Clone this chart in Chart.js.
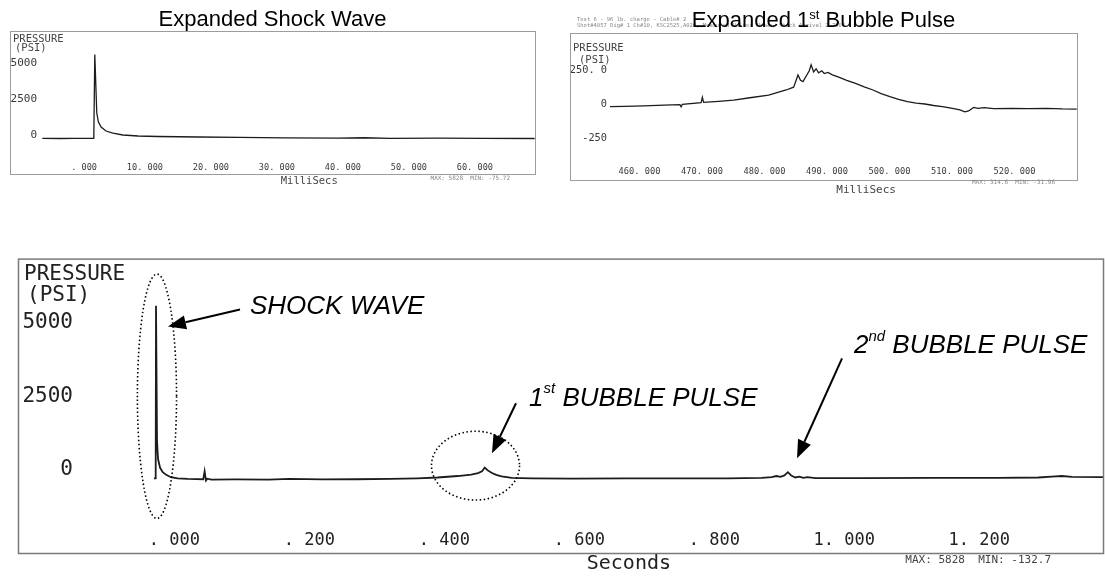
<!DOCTYPE html>
<html>
<head>
<meta charset="utf-8">
<script src="https://cdn.jsdelivr.net/npm/chart.js@4.4.1/dist/chart.umd.min.js"></script>
<style>
  html, body { margin: 0; padding: 0; background: #fff; }
  body { width: 1105px; height: 578px; position: relative; overflow: hidden; }
  canvas { position: absolute; }
  #shockChart { left: 0; top: 0; }
  #bubbleChart { left: 560px; top: 0; }
  #fullChart { left: 0; top: 240px; }
</style>
</head>
<body>
<canvas id="shockChart" width="560" height="200"></canvas>
<canvas id="bubbleChart" width="545" height="200"></canvas>
<canvas id="fullChart" width="1105" height="338"></canvas>
<script>
// ---- Expanded shock wave (time in ms, pressure in psi) ----
const shockTimeMs = [-4.8, -2, 0, 1.5, 3.0, 3.15, 3.45, 3.7, 4.1, 4.85, 5.9, 7.4, 9.7, 12.7, 18.8, 25, 32, 40, 44, 48, 55, 62, 69.8];
const shockPsi    = [10, 0, 10, 5, 10, 5828, 1770, 1146, 800, 520, 380, 243, 174, 139, 104, 80, 40, 20, 50, 15, 30, 10, 0];
const shockXTicks = [0, 10, 20, 30, 40, 50, 60];
const shockYTicks = [0, 2500, 5000];
const shockYLabels = ['0', '2500', '5000'];

// ---- Expanded 1st bubble pulse (time in ms, pressure in psi) ----
const bubbleTimeMs = [455.6, 458, 461, 464.3, 466.8, 467.0, 467.2, 470.2, 470.4, 470.6, 473, 475.4, 478, 481, 483.8,
  485.0, 485.4, 485.7, 486.1, 486.5, 487.0, 487.5, 487.8, 488.2, 488.6, 489.0, 489.5, 489.9, 490.5, 491.2,
  492.1, 493.5, 494.9, 496.3, 497.7, 499, 500.4, 501.8, 503.2, 504.6, 506.0, 507.4, 508.8, 510.2, 511.6,
  512.4, 513.0, 513.8, 514.5, 515.5, 517, 519.9, 522.5, 525.5, 528, 530.3];
const bubblePsi = [6, 8, 12, 18, 22, 5, 24, 36, 75, 38, 46, 55, 72, 92, 129,
  150, 200, 239, 200, 190, 230, 270, 314, 262, 285, 255, 270, 250, 258, 240,
  226, 200, 178, 152, 129, 103, 80, 60, 43, 33, 26, 15, 6, -5, -18,
  -32, -25, 1, -6, -1, -8, -6, -8, -6, -10, -11];
const bubbleXTicks = [460, 470, 480, 490, 500, 510, 520];
const bubbleYTicks = [-250, 0, 250];
const bubbleYLabels = ['-250', '0', '250. 0'];

// ---- Full record (time in s, pressure in psi) ----
const fullTimeS = [0.0, 0.0025, 0.003, 0.0045, 0.006, 0.009, 0.013, 0.018, 0.025, 0.035, 0.05, 0.073, 0.075, 0.077, 0.079,
  0.085, 0.12, 0.17, 0.2, 0.25, 0.3, 0.35, 0.39, 0.42, 0.45, 0.47, 0.48, 0.486, 0.49, 0.494,
  0.5, 0.507, 0.515, 0.53, 0.56, 0.62, 0.7, 0.78, 0.85, 0.9, 0.915, 0.922, 0.928, 0.934, 0.939,
  0.944, 0.95, 0.956, 0.962, 0.968, 0.98, 1.05, 1.15, 1.25, 1.31, 1.33, 1.345, 1.36, 1.406];
const fullPsi = [-60, -60, 5828, 1200, 600, 300, 150, 60, -20, -60, -80, -90, 180, -133, -70,
  -100, -95, -100, -80, -95, -90, -80, -60, -30, 20, 70, 120, 180, 310, 220,
  130, 60, 10, -40, -60, -70, -60, -60, -60, -40, -20, 20, -10, 40, 150,
  40, -30, 0, -40, -20, -50, -50, -45, -40, -30, 0, 20, -10, -15];
const fullXTicks = [0, 0.2, 0.4, 0.6, 0.8, 1.0, 1.2];
const fullYTicks = [0, 2500, 5000];
const fullYLabels = ['0', '2500', '5000'];

// annotations on the full record, in data units (s, psi)
const shockRing = { t: 0.0044, v: 2738, rt: 0.029, rv: 4167 };
const bubbleRing = { t: 0.4763, v: 374, rt: 0.0652, rv: 1173 };
const callouts = [
  { lead: '', sup: '', text: 'SHOCK WAVE', tail: [0.1274, 5697], tip: [0.0207, 5119], at: [0.1422, 5799] },
  { lead: '1', sup: 'st', text: ' BUBBLE PULSE', tail: [0.5363, 2500], tip: [0.5007, 799], at: [0.5556, 2670] },
  { lead: '2', sup: 'nd', text: ' BUBBLE PULSE', tail: [1.0193, 4031], tip: [0.9526, 629], at: [1.037, 4473] }
];

const MONO = "'DejaVu Sans Mono', monospace";
const SANS = "'Liberation Sans', Arial, sans-serif";

// "0.200" -> ". 200", "460" -> "460. 000"
function plotterLabel(v) {
  const s = Number(v).toFixed(3).split('.');
  return (s[0] === '0' ? '' : s[0]) + '. ' + s[1];
}

function frameOf(chart) {
  return {
    left: chart.scales.y.left,
    top: chart.chartArea.top,
    right: chart.chartArea.right,
    bottom: chart.scales.x.bottom
  };
}

function buildChart(id, cfg) {
  return new Chart(document.getElementById(id), {
    type: 'line',
    data: {
      datasets: [{
        data: cfg.xs.map((x, i) => ({ x: x, y: cfg.ys[i] })),
        borderColor: '#1c1c1c',
        borderWidth: cfg.lineWidth,
        pointRadius: 0,
        tension: 0,
        fill: false
      }]
    },
    options: {
      responsive: false,
      animation: false,
      devicePixelRatio: 1,
      layout: { padding: cfg.padding },
      plugins: { legend: { display: false }, tooltip: { enabled: false } },
      scales: {
        x: {
          type: 'linear', min: cfg.xMin, max: cfg.xMax,
          grid: { display: false, drawTicks: false },
          border: { display: false },
          afterBuildTicks: s => { s.ticks = cfg.xTicks.map(v => ({ value: v })); },
          afterFit: s => { s.height = cfg.xHeight; },
          ticks: {
            autoSkip: false, maxRotation: 0, align: 'end',
            labelOffset: cfg.xLabelOffset, padding: 2,
            color: cfg.textColor, font: { family: MONO, size: cfg.xFont },
            callback: v => plotterLabel(v)
          }
        },
        y: {
          type: 'linear', min: cfg.yMin, max: cfg.yMax,
          grid: { display: false, drawTicks: false },
          border: { display: false },
          afterBuildTicks: s => { s.ticks = cfg.yTicks.map(v => ({ value: v })); },
          afterFit: s => { s.width = cfg.yWidth; },
          ticks: {
            padding: cfg.yPad, labelOffset: cfg.yLabelOffset,
            color: cfg.textColor, font: { family: MONO, size: cfg.yFont },
            callback: v => cfg.yLabels[cfg.yTicks.indexOf(v)]
          }
        }
      }
    },
    plugins: [{ id: 'deco' + id, afterDraw: chart => cfg.deco(chart, chart.ctx, frameOf(chart)) }]
  });
}

function drawFrame(ctx, f, color, width) {
  ctx.strokeStyle = color;
  ctx.lineWidth = width;
  ctx.strokeRect(f.left + 0.5, f.top + 0.5, f.right - f.left, f.bottom - f.top);
}

function text(ctx, str, x, y, font, color, align) {
  ctx.font = font;
  ctx.fillStyle = color;
  ctx.textAlign = align || 'left';
  ctx.textBaseline = 'middle';
  ctx.fillText(str, x, y);
}

// top left: expanded shock wave
buildChart('shockChart', {
  xs: shockTimeMs, ys: shockPsi, lineWidth: 1.3,
  padding: { left: 10, top: 31, right: 25, bottom: 26 },
  xMin: -4.85, xMax: 69.85, yMin: -1549, yMax: 7465,
  xTicks: shockXTicks, yTicks: shockYTicks, yLabels: shockYLabels,
  xHeight: 13.2, xLabelOffset: 23, xFont: 8.6,
  yWidth: 32, yPad: 5, yLabelOffset: -3, yFont: 11,
  textColor: '#3a3a3a',
  deco: (chart, ctx, f) => {
    ctx.save();
    drawFrame(ctx, f, '#9c9c9c', 1);
    text(ctx, 'Expanded Shock Wave', (f.left + f.right) / 2, f.top - 11, '22px ' + SANS, '#000', 'center');
    text(ctx, 'PRESSURE', f.left + 3, f.top + 8, '10.5px ' + MONO, '#444');
    text(ctx, '(PSI)', f.left + 5, f.top + 17, '10.5px ' + MONO, '#444');
    text(ctx, 'MilliSecs', f.left + (f.right - f.left) * 0.57, f.bottom + 7, '10.5px ' + MONO, '#444', 'center');
    text(ctx, 'MAX: 5828  MIN: -75.72', f.right - 25, f.bottom + 4, '6px ' + MONO, '#888', 'right');
    ctx.restore();
  }
});

// top right: expanded 1st bubble pulse
buildChart('bubbleChart', {
  xs: bubbleTimeMs, ys: bubblePsi, lineWidth: 1.3,
  padding: { left: 10, top: 33, right: 28, bottom: 20 },
  xMin: 455.62, xMax: 530.34, yMin: -421, yMax: 548,
  xTicks: bubbleXTicks, yTicks: bubbleYTicks, yLabels: bubbleYLabels,
  xHeight: 15.2, xLabelOffset: 23, xFont: 8.7,
  yWidth: 40, yPad: 3, yLabelOffset: -3, yFont: 10.3,
  textColor: '#3a3a3a',
  deco: (chart, ctx, f) => {
    ctx.save();
    drawFrame(ctx, f, '#9c9c9c', 1);
    text(ctx, 'Test 6 - 96 lb. charge - Cable# 2', f.left + 7, f.top - 13, '5.5px ' + MONO, '#888');
    text(ctx, 'Shot#4057 Dig# 1 Ch#10, KSC2525,A020, Measured Values Shown, Shock Arrival 2.7506', f.left + 7, f.top - 7, '5.5px ' + MONO, '#888');
    ctx.font = '22px ' + SANS;
    const cx = (f.left + f.right) / 2;
    const parts = ['Expanded 1', 'st', ' Bubble Pulse'];
    const w0 = ctx.measureText(parts[0]).width;
    ctx.font = '13px ' + SANS;
    const w1 = ctx.measureText(parts[1]).width;
    ctx.font = '22px ' + SANS;
    const w2 = ctx.measureText(parts[2]).width;
    const x = cx - (w0 + w1 + w2) / 2;
    const ty = f.top - 12;
    text(ctx, parts[0], x, ty, '22px ' + SANS, '#000');
    text(ctx, parts[1], x + w0, ty - 6, '13px ' + SANS, '#000');
    text(ctx, parts[2], x + w0 + w1, ty, '22px ' + SANS, '#000');
    text(ctx, 'PRESSURE', f.left + 3, f.top + 15, '10.5px ' + MONO, '#444');
    text(ctx, '(PSI)', f.left + 9, f.top + 27, '10.5px ' + MONO, '#444');
    text(ctx, 'MilliSecs', f.left + (f.right - f.left) * 0.584, f.bottom + 10, '11px ' + MONO, '#444', 'center');
    text(ctx, 'MAX: 314.6  MIN: -31.96', f.right - 22, f.bottom + 2, '6px ' + MONO, '#888', 'right');
    ctx.restore();
  }
});

function arrow(ctx, x1, y1, x2, y2) {
  const ang = Math.atan2(y2 - y1, x2 - x1);
  const len = 18, half = 7;
  const bx = x2 - len * Math.cos(ang), by = y2 - len * Math.sin(ang);
  ctx.beginPath();
  ctx.moveTo(x1, y1);
  ctx.lineTo(bx, by);
  ctx.stroke();
  ctx.beginPath();
  ctx.moveTo(x2, y2);
  ctx.lineTo(bx + half * Math.sin(ang), by - half * Math.cos(ang));
  ctx.lineTo(bx - half * Math.sin(ang), by + half * Math.cos(ang));
  ctx.closePath();
  ctx.fill();
}

function ring(ctx, xs, ys, r) {
  const cx = xs.getPixelForValue(r.t), cy = ys.getPixelForValue(r.v);
  const rx = Math.abs(xs.getPixelForValue(r.t + r.rt) - cx);
  const ry = Math.abs(ys.getPixelForValue(r.v + r.rv) - cy);
  ctx.beginPath();
  ctx.ellipse(cx, cy, rx, ry, 0, 0, Math.PI * 2);
  ctx.stroke();
}

// bottom: full record
buildChart('fullChart', {
  xs: fullTimeS, ys: fullPsi, lineWidth: 1.8,
  padding: { left: 18, top: 18, right: 2, bottom: 25 },
  xMin: -0.1111, xMax: 1.4059, yMin: -1752, yMax: 7432,
  xTicks: fullXTicks, yTicks: fullYTicks, yLabels: fullYLabels,
  xHeight: 25, xLabelOffset: 46, xFont: 17,
  yWidth: 61, yPad: 6, yLabelOffset: -7, yFont: 21,
  textColor: '#222',
  deco: (chart, ctx, f) => {
    const xs = chart.scales.x, ys = chart.scales.y;
    ctx.save();
    drawFrame(ctx, f, '#7a7a7a', 1.5);
    text(ctx, 'PRESSURE', f.left + 6, f.top + 16, '21px ' + MONO, '#222');
    text(ctx, '(PSI)', f.left + 9, f.top + 37, '21px ' + MONO, '#222');
    text(ctx, 'Seconds', f.left + (f.right - f.left) * 0.563, f.bottom + 11, '20px ' + MONO, '#222', 'center');
    text(ctx, 'MAX: 5828  MIN: -132.7', f.right - 52, f.bottom + 7, '11px ' + MONO, '#444', 'right');

    // dotted rings
    ctx.strokeStyle = '#000';
    ctx.lineWidth = 1.6;
    ctx.setLineDash([1.5, 2.5]);
    ring(ctx, xs, ys, shockRing);
    ring(ctx, xs, ys, bubbleRing);
    ctx.setLineDash([]);

    // callouts
    ctx.lineWidth = 2;
    ctx.fillStyle = '#000';
    callouts.forEach(c => {
      arrow(ctx, xs.getPixelForValue(c.tail[0]), ys.getPixelForValue(c.tail[1]),
        xs.getPixelForValue(c.tip[0]), ys.getPixelForValue(c.tip[1]));
      let x = xs.getPixelForValue(c.at[0]);
      const y = ys.getPixelForValue(c.at[1]);
      const big = 'italic 26px ' + SANS, small = 'italic 15px ' + SANS;
      if (c.lead) {
        text(ctx, c.lead, x, y, big, '#000');
        ctx.font = big; x += ctx.measureText(c.lead).width;
        text(ctx, c.sup, x, y - 9, small, '#000');
        ctx.font = small; x += ctx.measureText(c.sup).width;
      }
      text(ctx, c.text, x, y, big, '#000');
    });
    ctx.restore();
  }
});
</script>
</body>
</html>
